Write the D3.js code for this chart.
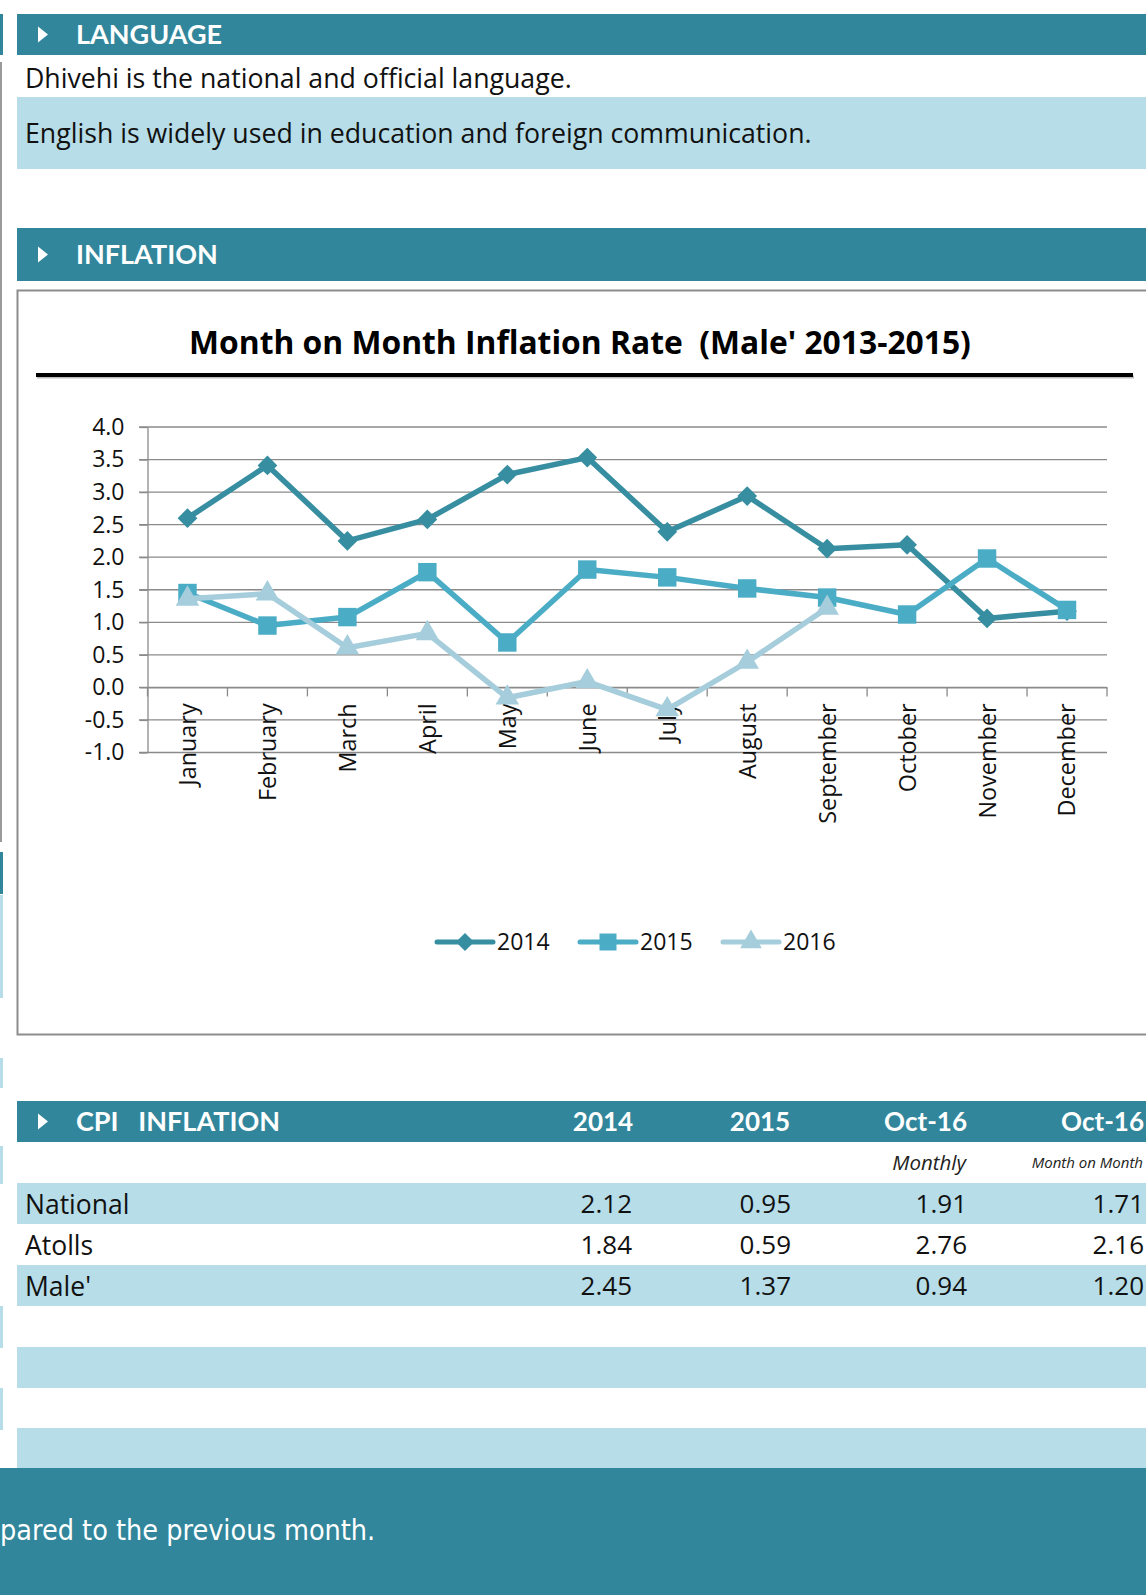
<!DOCTYPE html>
<html>
<head>
<meta charset="utf-8">
<script src="https://cdn.jsdelivr.net/npm/d3@7"></script>
<style>
  body { margin: 0; background: #fff; }
  svg { display: block; font-family: "Open Sans", sans-serif; }
  text { white-space: pre; }
</style>
</head>
<body>
<div id="page"></div>
<script>
// chart data
const months = ["January", "February", "March", "April", "May", "June",
    "July", "August", "September", "October", "November", "December"];
const years = ["2014", "2015", "2016"];
const values2014 = [2.6, 3.41, 2.25, 2.58, 3.27, 3.53, 2.39, 2.94, 2.13, 2.19, 1.06, 1.17];
const values2015 = [1.45, 0.95, 1.08, 1.77, 0.69, 1.81, 1.69, 1.52, 1.38, 1.12, 1.98, 1.19];
const values2016 = [1.36, 1.44, 0.61, 0.83, -0.16, 0.09, -0.34, 0.39, 1.22];
const yTicks = [-1.0, -0.5, 0.0, 0.5, 1.0, 1.5, 2.0, 2.5, 3.0, 3.5, 4.0];

// table data
const tableHeads = ["2014", "2015", "Oct-16", "Oct-16"];
const tableSubHeads = ["", "", "Monthly", "Month on Month"];
const regions = ["National", "Atolls", "Male'"];
const cpiNational = ["2.12", "0.95", "1.91", "1.71"];
const cpiAtolls = ["1.84", "0.59", "2.76", "2.16"];
const cpiMale = ["2.45", "1.37", "0.94", "1.20"];

const teal = "#31869b";
const paleBlue = "#b7dde8";
const colors = { "2014": "#378ea1", "2015": "#4bacc6", "2016": "#a5cddb" };
const headFont = "Lato, sans-serif";

const W = 1146, H = 1595;
const svg = d3.select("#page").append("svg")
    .attr("width", W)
    .attr("height", H);

// little strips on the left page edge
svg.append("rect").attr("x", 0).attr("y", 14).attr("width", 3).attr("height", 41).attr("fill", teal);
svg.append("rect").attr("x", 0).attr("y", 62).attr("width", 2).attr("height", 780).attr("fill", "#9a9a9a");
svg.append("rect").attr("x", 0).attr("y", 852).attr("width", 3).attr("height", 42).attr("fill", teal);
svg.append("rect").attr("x", 0).attr("y", 895).attr("width", 3).attr("height", 103).attr("fill", paleBlue);
svg.append("rect").attr("x", 0).attr("y", 1058).attr("width", 3).attr("height", 30).attr("fill", paleBlue);
svg.append("rect").attr("x", 0).attr("y", 1146).attr("width", 3).attr("height", 38).attr("fill", paleBlue);
svg.append("rect").attr("x", 0).attr("y", 1306).attr("width", 3).attr("height", 42).attr("fill", paleBlue);
svg.append("rect").attr("x", 0).attr("y", 1388).attr("width", 3).attr("height", 42).attr("fill", paleBlue);

// section header bar
function headerBar(y, h, label) {
    svg.append("rect")
        .attr("x", 17).attr("y", y)
        .attr("width", W - 17).attr("height", h)
        .attr("fill", teal);
    let cy = y + h / 2;
    svg.append("path")
        .attr("d", `M38,${cy - 8} L48,${cy} L38,${cy + 8} Z`)
        .attr("fill", "#fff");
    svg.append("text")
        .attr("x", 76).attr("y", cy)
        .attr("dy", "0.36em")
        .attr("fill", "#fff")
        .style("font-family", headFont)
        .style("font-weight", "bold")
        .style("font-size", "27px")
        .text(label);
}

// LANGUAGE
headerBar(14, 41, "LANGUAGE");
svg.append("text")
    .attr("x", 25).attr("y", 78)
    .attr("dy", "0.36em")
    .style("font-size", "26.7px")
    .attr("fill", "#111")
    .text("Dhivehi is the national and official language.");
svg.append("rect")
    .attr("x", 17).attr("y", 97)
    .attr("width", W - 17).attr("height", 72)
    .attr("fill", paleBlue);
svg.append("text")
    .attr("x", 25).attr("y", 133)
    .attr("dy", "0.36em")
    .style("font-size", "26.7px")
    .attr("fill", "#111")
    .text("English is widely used in education and foreign communication.");

// INFLATION
headerBar(228, 53, "INFLATION");

// chart box
svg.append("rect")
    .attr("x", 17.5).attr("y", 290.5)
    .attr("width", W).attr("height", 744)
    .attr("fill", "#fff")
    .attr("stroke", "#8c8c8c")
    .attr("stroke-width", 2);

svg.append("text")
    .attr("x", 580).attr("y", 343)
    .attr("dy", "0.36em")
    .attr("text-anchor", "middle")
    .style("font-weight", "bold")
    .style("font-size", "31.8px")
    .attr("fill", "#000")
    .text("Month on Month Inflation Rate  (Male' 2013-2015)");

// title rule with a soft shadow
svg.append("line")
    .attr("x1", 37).attr("x2", 1134).attr("y1", 377).attr("y2", 377)
    .attr("stroke", "#bbb").attr("stroke-width", 3);
svg.append("line")
    .attr("x1", 36).attr("x2", 1133).attr("y1", 375).attr("y2", 375)
    .attr("stroke", "#000").attr("stroke-width", 4);

// scales
const x = d3.scaleBand().domain(months).range([147.5, 1107]);
const y = d3.scaleLinear().domain([-1, 4]).range([752.5, 427]);
const cx = m => x(m) + x.bandwidth() / 2;

// gridlines
svg.append("g")
    .selectAll("line")
    .data(yTicks)
    .enter()
    .append("line")
    .attr("x1", 139).attr("x2", 1107)
    .attr("y1", d => y(d)).attr("y2", d => y(d))
    .attr("stroke", "#8a8a8a")
    .attr("stroke-width", 1.3);

// y axis
let yAxis = svg.append("g")
    .attr("transform", "translate(147.5,0)")
    .call(d3.axisLeft(y).tickValues(yTicks).tickFormat(d => d.toFixed(1)).tickSize(8).tickSizeOuter(0));
yAxis.select(".domain").attr("stroke", "#8a8a8a").attr("stroke-width", 1.3);
yAxis.selectAll(".tick line").attr("stroke", "#8a8a8a").attr("stroke-width", 1.3);
yAxis.selectAll(".tick text")
    .attr("x", -23)
    .style("font-family", "'Open Sans', sans-serif")
    .style("font-size", "23px")
    .attr("fill", "#111");

// x axis at zero
let xAxis = svg.append("g")
    .attr("transform", `translate(0,${y(0)})`)
    .call(d3.axisBottom(x).tickSize(0).tickSizeOuter(0));
xAxis.select(".domain").attr("stroke", "#8a8a8a").attr("stroke-width", 1.3);
xAxis.selectAll(".tick text")
    .attr("transform", "rotate(-90)")
    .attr("x", -16)
    .attr("y", 0)
    .attr("dy", "0.36em")
    .attr("text-anchor", "end")
    .style("font-family", "'Open Sans', sans-serif")
    .style("font-size", "23.4px")
    .attr("fill", "#111");

// x ticks between categories
svg.append("g")
    .selectAll("line")
    .data(d3.range(months.length + 1))
    .enter()
    .append("line")
    .attr("x1", i => x.range()[0] + i * x.step())
    .attr("x2", i => x.range()[0] + i * x.step())
    .attr("y1", y(0)).attr("y2", y(0) + 9)
    .attr("stroke", "#8a8a8a")
    .attr("stroke-width", 1.3);

// diamond = rotated square
const seriesData = [
    { year: "2014", values: values2014, symbol: d3.symbolSquare, size: 195, rot: 45 },
    { year: "2015", values: values2015, symbol: d3.symbolSquare, size: 340, rot: 0 },
    { year: "2016", values: values2016, symbol: d3.symbolTriangle, size: 240, rot: 0 }
];

const line = d3.line()
    .x((d, i) => cx(months[i]))
    .y(d => y(d));

// excel order: later years on top
seriesData.forEach(s => {
    svg.append("path")
        .datum(s.values)
        .attr("d", line)
        .attr("fill", "none")
        .attr("stroke", colors[s.year])
        .attr("stroke-width", 5.5)
        .attr("stroke-linejoin", "round");

    svg.append("g")
        .selectAll("path")
        .data(s.values)
        .enter()
        .append("path")
        .attr("d", d3.symbol().type(s.symbol).size(s.size))
        .attr("transform", (d, i) => `translate(${cx(months[i])},${y(d)}) rotate(${s.rot})`)
        .attr("fill", colors[s.year]);
});

// legend
let legend = svg.append("g")
    .attr("transform", "translate(0,942)");
const legendX = [437, 580, 723];
seriesData.forEach((s, i) => {
    let g = legend.append("g").attr("transform", `translate(${legendX[i]},0)`);
    g.append("line")
        .attr("x1", 0).attr("x2", 56)
        .attr("stroke", colors[s.year])
        .attr("stroke-width", 5)
        .attr("stroke-linecap", "round");
    g.append("path")
        .attr("d", d3.symbol().type(s.symbol).size(s.size * 0.85))
        .attr("transform", `translate(28,0) rotate(${s.rot})`)
        .attr("fill", colors[s.year]);
    g.append("text")
        .attr("x", 60)
        .attr("dy", "0.36em")
        .style("font-size", "23px")
        .attr("fill", "#111")
        .text(s.year);
});

// CPI table
headerBar(1101, 41, "CPI   INFLATION");
const colRight = [632, 791, 967, 1144];
const headAnchor = ["middle", "middle", "end", "end"];
const headX = [603, 760, 967, 1144];
svg.append("g")
    .selectAll("text")
    .data(tableHeads)
    .enter()
    .append("text")
    .attr("x", (d, i) => headX[i])
    .attr("y", 1122)
    .attr("dy", "0.36em")
    .attr("text-anchor", (d, i) => headAnchor[i])
    .attr("fill", "#fff")
    .style("font-family", headFont)
    .style("font-weight", "bold")
    .style("font-size", "26px")
    .text(d => d);

svg.append("g")
    .selectAll("text")
    .data(tableSubHeads)
    .enter()
    .append("text")
    .attr("x", (d, i) => colRight[i] - 1)
    .attr("y", 1163)
    .attr("dy", "0.36em")
    .attr("text-anchor", "end")
    .style("font-style", "italic")
    .style("font-size", (d, i) => i === 3 ? "15px" : "20.5px")
    .attr("fill", "#222")
    .text(d => d);

const tableRows = [cpiNational, cpiAtolls, cpiMale];
tableRows.forEach((row, r) => {
    let top = 1183 + r * 41;
    if (r !== 1) {
        svg.append("rect")
            .attr("x", 17).attr("y", top)
            .attr("width", W - 17).attr("height", 41)
            .attr("fill", paleBlue);
    }
    svg.append("text")
        .attr("x", 25).attr("y", top + 21)
        .attr("dy", "0.36em")
        .style("font-size", "26.5px")
        .attr("fill", "#111")
        .text(regions[r]);
    svg.append("g")
        .selectAll("text")
        .data(row)
        .enter()
        .append("text")
        .attr("x", (d, i) => colRight[i])
        .attr("y", top + 21)
        .attr("dy", "0.36em")
        .attr("text-anchor", "end")
        .style("font-size", "26px")
        .attr("fill", "#111")
        .text(d => d);
});

// empty bands below the table
svg.append("rect").attr("x", 17).attr("y", 1347).attr("width", W - 17).attr("height", 41).attr("fill", paleBlue);
svg.append("rect").attr("x", 17).attr("y", 1428).attr("width", W - 17).attr("height", 41).attr("fill", paleBlue);

// bottom teal block (sentence is cut by the page edge in the original)
svg.append("rect")
    .attr("x", 0).attr("y", 1468)
    .attr("width", W).attr("height", H - 1468)
    .attr("fill", teal);
svg.append("text")
    .attr("x", 0).attr("y", 1530)
    .attr("dy", "0.36em")
    .attr("fill", "#fff")
    .style("font-family", "'DejaVu Sans Condensed', 'Liberation Sans Narrow', sans-serif")
    .style("font-stretch", "condensed")
    .style("font-size", "28.5px")
    .text("pared to the previous month.");
</script>
</body>
</html>
